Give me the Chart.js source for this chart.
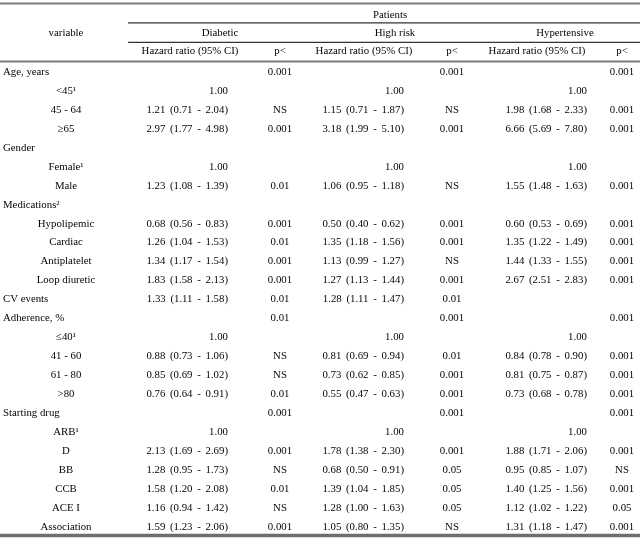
<!DOCTYPE html>
<html>
<head>
<meta charset="utf-8">
<script src="https://cdn.jsdelivr.net/npm/chart.js@4/dist/chart.umd.min.js"></script>
<style>
  html, body { margin: 0; padding: 0; background: #fff; }
  #wrap { width: 640px; height: 538px; position: relative; }
</style>
</head>
<body>
<div id="wrap"><canvas id="table"></canvas></div>
<script>
// ---------- DATA ----------
const spanTitle = 'Patients';
const stubTitle = 'variable';
const groups = ['Diabetic', 'High risk', 'Hypertensive'];
const subHeaders = ['Hazard ratio (95% CI)', 'p<'];

const variables = [
    'Age, years', '<45¹', '45 - 64', '≥65',
    'Gender', 'Female¹', 'Male',
    'Medications²', 'Hypolipemic', 'Cardiac', 'Antiplatelet', 'Loop diuretic',
    'CV events',
    'Adherence, %', '≤40¹', '41 - 60', '61 - 80', '>80',
    'Starting drug', 'ARB¹', 'D', 'BB', 'CCB', 'ACE I', 'Association'
];
const isGroupRow = [1,0,0,0, 1,0,0, 1,0,0,0,0, 1, 1,0,0,0,0, 1,0,0,0,0,0,0];

const diabeticHR = [
    '', '1.00', '1.21 (0.71 - 2.04)', '2.97 (1.77 - 4.98)',
    '', '1.00', '1.23 (1.08 - 1.39)',
    '', '0.68 (0.56 - 0.83)', '1.26 (1.04 - 1.53)', '1.34 (1.17 - 1.54)', '1.83 (1.58 - 2.13)',
    '1.33 (1.11 - 1.58)',
    '', '1.00', '0.88 (0.73 - 1.06)', '0.85 (0.69 - 1.02)', '0.76 (0.64 - 0.91)',
    '', '1.00', '2.13 (1.69 - 2.69)', '1.28 (0.95 - 1.73)', '1.58 (1.20 - 2.08)', '1.16 (0.94 - 1.42)', '1.59 (1.23 - 2.06)'
];
const diabeticP = [
    '0.001', '', 'NS', '0.001',
    '', '', '0.01',
    '', '0.001', '0.01', '0.001', '0.001',
    '0.01',
    '0.01', '', 'NS', 'NS', '0.01',
    '0.001', '', '0.001', 'NS', '0.01', 'NS', '0.001'
];
const highRiskHR = [
    '', '1.00', '1.15 (0.71 - 1.87)', '3.18 (1.99 - 5.10)',
    '', '1.00', '1.06 (0.95 - 1.18)',
    '', '0.50 (0.40 - 0.62)', '1.35 (1.18 - 1.56)', '1.13 (0.99 - 1.27)', '1.27 (1.13 - 1.44)',
    '1.28 (1.11 - 1.47)',
    '', '1.00', '0.81 (0.69 - 0.94)', '0.73 (0.62 - 0.85)', '0.55 (0.47 - 0.63)',
    '', '1.00', '1.78 (1.38 - 2.30)', '0.68 (0.50 - 0.91)', '1.39 (1.04 - 1.85)', '1.28 (1.00 - 1.63)', '1.05 (0.80 - 1.35)'
];
const highRiskP = [
    '0.001', '', 'NS', '0.001',
    '', '', 'NS',
    '', '0.001', '0.001', 'NS', '0.001',
    '0.01',
    '0.001', '', '0.01', '0.001', '0.001',
    '0.001', '', '0.001', '0.05', '0.05', '0.05', 'NS'
];
const hypertensiveHR = [
    '', '1.00', '1.98 (1.68 - 2.33)', '6.66 (5.69 - 7.80)',
    '', '1.00', '1.55 (1.48 - 1.63)',
    '', '0.60 (0.53 - 0.69)', '1.35 (1.22 - 1.49)', '1.44 (1.33 - 1.55)', '2.67 (2.51 - 2.83)',
    '',
    '', '1.00', '0.84 (0.78 - 0.90)', '0.81 (0.75 - 0.87)', '0.73 (0.68 - 0.78)',
    '', '1.00', '1.88 (1.71 - 2.06)', '0.95 (0.85 - 1.07)', '1.40 (1.25 - 1.56)', '1.12 (1.02 - 1.22)', '1.31 (1.18 - 1.47)'
];
const hypertensiveP = [
    '0.001', '', '0.001', '0.001',
    '', '', '0.001',
    '', '0.001', '0.001', '0.001', '0.001',
    '',
    '0.001', '', '0.001', '0.001', '0.001',
    '0.001', '', '0.001', 'NS', '0.001', '0.05', '0.001'
];

// ---------- LAYOUT (x in px on a 0-640 scale, y in row units) ----------
const COL = {
    groupLabel: 3, itemLabel: 66,
    hr: [228, 404, 587], p: [280, 452, 622],
    hrHead: [190, 364, 537], groupHead: [220, 395, 565], span: 390
};
const ROW = { span: -3.02, group: -2.03, sub: -1.08 };
const RULES = [
    { y: -3.62, from: 0,   width: 2,   color: '#7a7a7a' },
    { y: -2.59, from: 128, width: 1.2, color: '#333' },
    { y: -1.56, from: 128, width: 1.2, color: '#333' },
    { y: -0.56, from: 0,   width: 2,   color: '#7a7a7a' },
    { y: 24.45, from: 0,   width: 3.5, color: '#6e6e6e' }
];
const FONT = '10.8px "Liberation Serif", "Times New Roman", serif';
const TEXT_COLOR = '#050505';

// ---------- DATASETS ----------
function textSet(labels, x, ys, align, extra = {}) {
    return Object.assign({
        data: labels.map((_, i) => ({ x: Array.isArray(x) ? x[i] : x, y: ys[i] })),
        labels: labels,
        align: align,
        pointRadius: 0,
        pointHoverRadius: 0
    }, extra);
}

const rowIdx = variables.map((_, i) => i);
const groupIdx = rowIdx.filter(i => isGroupRow[i]);
const itemIdx = rowIdx.filter(i => !isGroupRow[i]);

const hrCols = [diabeticHR, highRiskHR, hypertensiveHR];
const pCols = [diabeticP, highRiskP, hypertensiveP];

const datasets = [
    textSet([spanTitle], COL.span, [ROW.span], 'center'),
    textSet([stubTitle], COL.itemLabel, [ROW.group], 'center'),
    textSet(groups, COL.groupHead, groups.map(() => ROW.group), 'center'),
    textSet(groups.map(() => subHeaders[0]), COL.hrHead, groups.map(() => ROW.sub), 'center'),
    textSet(groups.map(() => subHeaders[1]), COL.p, groups.map(() => ROW.sub), 'center'),
    textSet(groupIdx.map(i => variables[i]), COL.groupLabel, groupIdx, 'left'),
    textSet(itemIdx.map(i => variables[i]), COL.itemLabel, itemIdx, 'center')
];
hrCols.forEach((col, g) => datasets.push(textSet(col, COL.hr[g], rowIdx, 'right', { wordSpacing: '2px' })));
pCols.forEach((col, g) => datasets.push(textSet(col, COL.p[g], rowIdx, 'center')));

// ---------- PLUGINS ----------
const tableRules = {
    id: 'tableRules',
    beforeDatasetsDraw(chart) {
        const { ctx, scales: { x, y } } = chart;
        ctx.save();
        RULES.forEach(r => {
            const py = y.getPixelForValue(r.y);
            ctx.beginPath();
            ctx.lineWidth = r.width;
            ctx.strokeStyle = r.color;
            ctx.moveTo(x.getPixelForValue(r.from), py);
            ctx.lineTo(x.getPixelForValue(640), py);
            ctx.stroke();
        });
        ctx.restore();
    }
};

const tableText = {
    id: 'tableText',
    afterDatasetsDraw(chart) {
        const ctx = chart.ctx;
        ctx.save();
        ctx.font = FONT;
        ctx.fillStyle = TEXT_COLOR;
        ctx.textBaseline = 'middle';
        chart.data.datasets.forEach((ds, i) => {
            const meta = chart.getDatasetMeta(i);
            ctx.textAlign = ds.align;
            ctx.wordSpacing = ds.wordSpacing || '0px';
            meta.data.forEach((pt, j) => {
                const s = ds.labels[j];
                if (s) ctx.fillText(s, pt.x, pt.y);
            });
        });
        ctx.restore();
    }
};

// ---------- CHART ----------
new Chart(document.getElementById('table'), {
    type: 'scatter',
    data: { datasets },
    options: {
        responsive: true,
        maintainAspectRatio: false,
        animation: false,
        layout: { padding: 0 },
        events: [],
        plugins: { legend: { display: false }, tooltip: { enabled: false } },
        scales: {
            x: { type: 'linear', display: false, min: 0, max: 640 },
            y: { type: 'linear', display: false, min: -3.8, max: 24.58, reverse: true }
        }
    },
    plugins: [tableRules, tableText]
});
</script>
</body>
</html>
